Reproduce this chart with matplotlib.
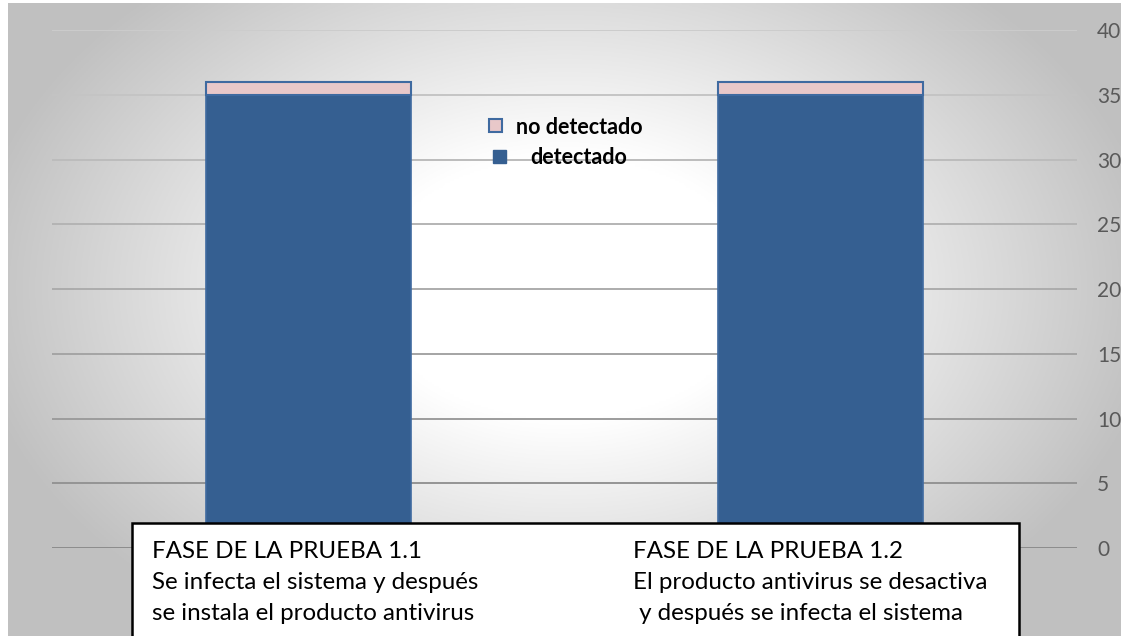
import matplotlib.pyplot as plt
import numpy as np
from matplotlib.patches import Rectangle

# datos
fases = ['FASE DE LA PRUEBA 1.1', 'FASE DE LA PRUEBA 1.2']
detectado = [35, 35]
no_detectado = [1, 1]
yticks = [0, 5, 10, 15, 20, 25, 30, 35, 40]
texto_11 = ['FASE DE LA PRUEBA 1.1', 'Se infecta el sistema y después', 'se instala el producto antivirus']
texto_12 = ['FASE DE LA PRUEBA 1.2', 'El producto antivirus se desactiva', ' y después se infecta el sistema']

W, H = 1121, 636
fig = plt.figure(figsize=(W / 100, H / 100), dpi=100, facecolor='white')
plt.rcParams['font.family'] = ['Lato', 'DejaVu Sans']

AZUL = '#355F91'
ROSA = '#E8C8C9'
BORDE = '#3F6AA0'

# fondo con degradado radial
bg = fig.add_axes([8 / W, 0, 1 - 8 / W, 1 - 3 / H])
yy, xx = np.mgrid[0:1:300j, 0:1:500j]
r = np.sqrt(((xx - 0.5) / 0.5) ** 2 + ((yy - 0.45) / 0.6) ** 2)
g = np.clip(1 - 0.22 * np.clip(r - 0.35, 0, None) / 0.65, 0.755, 1.0)
bg.imshow(np.dstack([g, g, g]), aspect='auto', extent=[0, 1, 0, 1], origin='upper')
bg.axis('off')

ax = fig.add_axes([52 / W, 88 / H, (1077 - 52) / W, (548 - 30.4) / H])
ax.set_facecolor('none')
x = np.arange(len(fases))
ax.bar(x, detectado, width=0.40, color=AZUL, edgecolor=BORDE, linewidth=1.2, zorder=3)
ax.bar(x, no_detectado, bottom=detectado, width=0.40, color=ROSA, edgecolor=BORDE, linewidth=1.5, zorder=3)
ax.set_xlim(-0.5, 1.5)
ax.set_ylim(0, 40)
ax.set_yticks(yticks)
ax.yaxis.tick_right()
ax.tick_params(axis='y', length=0, pad=14.5, labelsize=15, labelcolor='#595959')
ax.set_xticks([])
for v in yticks:
    c = 0.55 + 0.25 * v / 40
    ax.axhline(v, color=(c, c, c), linewidth=1.4, zorder=1)
for s in ax.spines.values():
    s.set_visible(False)

# leyenda
fig.patches.append(Rectangle((489 / W, 1 - 132 / H), 13 / W, 13 / H, transform=fig.transFigure,
                             facecolor=ROSA, edgecolor=BORDE, linewidth=1.5, zorder=4))
fig.text(516 / W, 1 - 127 / H, 'no detectado', fontsize=15.5, fontweight='bold', va='center', ha='left', zorder=4)
fig.patches.append(Rectangle((493 / W, 1 - 163 / H), 13 / W, 13 / H, transform=fig.transFigure,
                             facecolor=AZUL, edgecolor=AZUL, linewidth=1, zorder=4))
fig.text(530 / W, 1 - 157 / H, 'detectado', fontsize=15.5, fontweight='bold', va='center', ha='left', zorder=4)

# cuadro de texto inferior
fig.patches.append(Rectangle((132 / W, -0.05), (1019 - 132) / W, 0.05 + (H - 523) / H, transform=fig.transFigure,
                             facecolor='white', edgecolor='black', linewidth=1.8, zorder=5))
for i, (a, b) in enumerate(zip(texto_11, texto_12)):
    yc = 1 - (551 + i * 31.5) / H
    fig.text(152 / W, yc, a, fontsize=17.4, va='center', ha='left', color='black', zorder=6)
    fig.text(633 / W, yc, b, fontsize=17.4, va='center', ha='left', color='black', zorder=6)

fig.savefig('out.png', dpi=100)
